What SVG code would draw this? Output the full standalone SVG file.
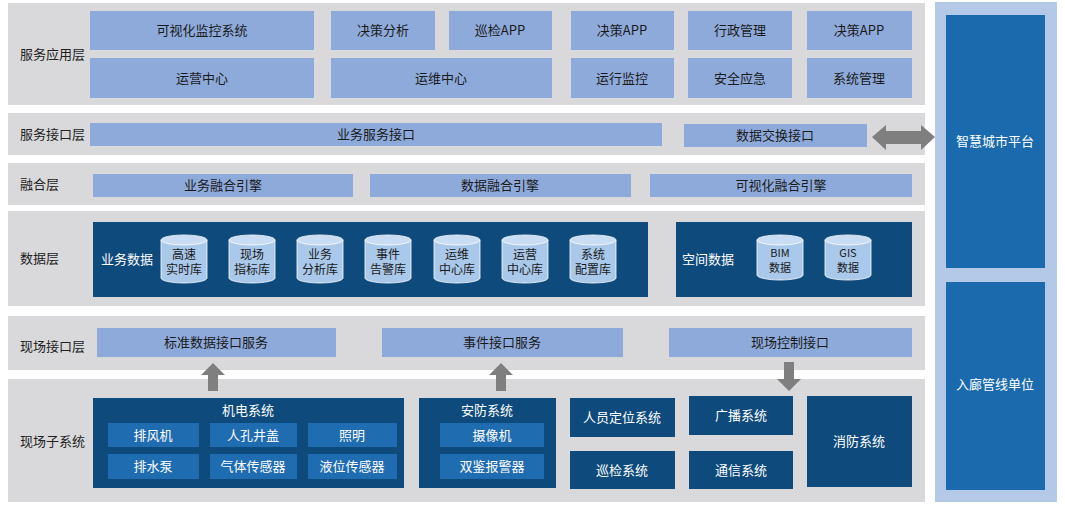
<svg xmlns="http://www.w3.org/2000/svg" width="1065" height="510" viewBox="0 0 1065 510">
<style>
text{font-family:"Noto Sans CJK SC","Liberation Sans",sans-serif;font-size:13px;}
.layer{fill:#d9d9db}
.lt{fill:#8eaadb}
.nv{fill:#0e4a7c}
.cell{fill:#1f6cb0}
.lab{fill:#222;font-size:13px}
.dk{fill:#1a1a1a;text-anchor:middle}
.wt{fill:#fff;text-anchor:middle}
.cyl{fill:#a9c8ea;stroke:#fff;stroke-width:0.8}
.cyt{fill:#c8ddf3;stroke:#fff;stroke-width:0.8}
.cy{fill:#1a1a1a;text-anchor:middle;font-size:12px}
.cs{fill:#1a1a1a;text-anchor:middle;font-size:11px}
.ar{fill:#7f7f7f}
</style>
<rect width="1065" height="510" fill="#fff"/>
<g id="layers">
<rect class="layer" x="8" y="3" width="917" height="102"/>
<rect class="layer" x="8" y="113" width="917" height="42"/>
<rect class="layer" x="8" y="163" width="917" height="42"/>
<rect class="layer" x="8" y="211" width="917" height="95"/>
<rect class="layer" x="8" y="316" width="917" height="54"/>
<rect class="layer" x="8" y="379" width="917" height="123"/>
<text class="lab" x="20" y="59">服务应用层</text>
<text class="lab" x="20" y="139">服务接口层</text>
<text class="lab" x="20" y="189">融合层</text>
<text class="lab" x="20" y="263">数据层</text>
<text class="lab" x="20" y="351">现场接口层</text>
<text class="lab" x="20" y="446">现场子系统</text>
</g>
<g id="right">
<rect x="935" y="2" width="122" height="500" fill="#b4c9e8"/>
<g id="n-city"><rect x="946" y="15" width="99" height="253" fill="#1a6aad"/><text class="wt" x="995" y="146">智慧城市平台</text></g>
<g id="n-pipe"><rect x="946" y="282" width="99" height="208" fill="#1a6aad"/><text class="wt" x="995" y="389">入廊管线单位</text></g>
</g>
<g id="app">
<g id="n1"><rect class="lt" x="90" y="11" width="224" height="39"/><text class="dk" x="202" y="35">可视化监控系统</text></g>
<g id="n2"><rect class="lt" x="90" y="58" width="224" height="40"/><text class="dk" x="202" y="83">运营中心</text></g>
<g id="n3"><rect class="lt" x="331" y="11" width="104" height="39"/><text class="dk" x="383" y="35">决策分析</text></g>
<g id="n4"><rect class="lt" x="449" y="11" width="103" height="39"/><text class="dk" x="500" y="35">巡检APP</text></g>
<g id="n5"><rect class="lt" x="331" y="58" width="221" height="40"/><text class="dk" x="441" y="83">运维中心</text></g>
<g id="n6"><rect class="lt" x="571" y="11" width="103" height="39"/><text class="dk" x="622" y="35">决策APP</text></g>
<g id="n7"><rect class="lt" x="688" y="11" width="104" height="39"/><text class="dk" x="740" y="35">行政管理</text></g>
<g id="n8"><rect class="lt" x="807" y="11" width="105" height="39"/><text class="dk" x="859" y="35">决策APP</text></g>
<g id="n9"><rect class="lt" x="571" y="58" width="103" height="40"/><text class="dk" x="622" y="83">运行监控</text></g>
<g id="n10"><rect class="lt" x="688" y="58" width="104" height="40"/><text class="dk" x="740" y="83">安全应急</text></g>
<g id="n11"><rect class="lt" x="807" y="58" width="105" height="40"/><text class="dk" x="859" y="83">系统管理</text></g>
</g>
<g id="iface">
<g id="n12"><rect class="lt" x="90" y="123" width="572" height="23"/><text class="dk" x="376" y="139">业务服务接口</text></g>
<g id="n13"><rect class="lt" x="684" y="124" width="183" height="23"/><text class="dk" x="775" y="140">数据交换接口</text></g>
</g>
<g id="fusion">
<g id="n14"><rect class="lt" x="93" y="174" width="260" height="23"/><text class="dk" x="223" y="190">业务融合引擎</text></g>
<g id="n15"><rect class="lt" x="370" y="174" width="261" height="23"/><text class="dk" x="500" y="190">数据融合引擎</text></g>
<g id="n16"><rect class="lt" x="650" y="174" width="262" height="23"/><text class="dk" x="781" y="190">可视化融合引擎</text></g>
</g>
<g id="data">
<rect class="nv" x="93" y="222" width="555" height="75"/>
<text class="wt" x="127" y="264">业务数据</text>
<rect class="nv" x="676" y="222" width="236" height="75"/>
<text class="wt" x="708" y="264">空间数据</text>
<g id="cyls">
<g id="c1"><path class="cyl" d="M161,240 v38 a23,5 0 0 0 46,0 v-38"/><ellipse class="cyt" cx="184" cy="240" rx="23" ry="5"/><text class="cy" x="184" y="259">高速</text><text class="cy" x="184" y="274">实时库</text></g>
<g id="c2"><path class="cyl" d="M229,240 v38 a23,5 0 0 0 46,0 v-38"/><ellipse class="cyt" cx="252" cy="240" rx="23" ry="5"/><text class="cy" x="252" y="259">现场</text><text class="cy" x="252" y="274">指标库</text></g>
<g id="c3"><path class="cyl" d="M297,240 v38 a23,5 0 0 0 46,0 v-38"/><ellipse class="cyt" cx="320" cy="240" rx="23" ry="5"/><text class="cy" x="320" y="259">业务</text><text class="cy" x="320" y="274">分析库</text></g>
<g id="c4"><path class="cyl" d="M365,240 v38 a23,5 0 0 0 46,0 v-38"/><ellipse class="cyt" cx="388" cy="240" rx="23" ry="5"/><text class="cy" x="388" y="259">事件</text><text class="cy" x="388" y="274">告警库</text></g>
<g id="c5"><path class="cyl" d="M434,240 v38 a23,5 0 0 0 46,0 v-38"/><ellipse class="cyt" cx="457" cy="240" rx="23" ry="5"/><text class="cy" x="457" y="259">运维</text><text class="cy" x="457" y="274">中心库</text></g>
<g id="c6"><path class="cyl" d="M502,240 v38 a23,5 0 0 0 46,0 v-38"/><ellipse class="cyt" cx="525" cy="240" rx="23" ry="5"/><text class="cy" x="525" y="259">运营</text><text class="cy" x="525" y="274">中心库</text></g>
<g id="c7"><path class="cyl" d="M570,240 v38 a23,5 0 0 0 46,0 v-38"/><ellipse class="cyt" cx="593" cy="240" rx="23" ry="5"/><text class="cy" x="593" y="259">系统</text><text class="cy" x="593" y="274">配置库</text></g>
<g id="c8"><path class="cyl" d="M757,240 v35 a23,5 0 0 0 46,0 v-35"/><ellipse class="cyt" cx="780" cy="240" rx="23" ry="5"/><text class="cs" x="780" y="257">BIM</text><text class="cs" x="780" y="272">数据</text></g>
<g id="c9"><path class="cyl" d="M825,240 v35 a23,5 0 0 0 46,0 v-35"/><ellipse class="cyt" cx="848" cy="240" rx="23" ry="5"/><text class="cs" x="848" y="257">GIS</text><text class="cs" x="848" y="272">数据</text></g>
</g>
</g>
<g id="field">
<g id="n17"><rect class="lt" x="97" y="328" width="239" height="29"/><text class="dk" x="216" y="347">标准数据接口服务</text></g>
<g id="n18"><rect class="lt" x="382" y="328" width="241" height="29"/><text class="dk" x="502" y="347">事件接口服务</text></g>
<g id="n19"><rect class="lt" x="669" y="328" width="243" height="29"/><text class="dk" x="790" y="347">现场控制接口</text></g>
</g>
<g id="sub">
<g id="n20"><rect class="nv" x="93" y="398" width="311" height="90"/><text class="wt" x="248" y="415">机电系统</text>
<rect class="cell" x="108" y="423" width="91" height="24"/><text class="wt" x="153" y="440">排风机</text>
<rect class="cell" x="210" y="423" width="87" height="24"/><text class="wt" x="253" y="440">人孔井盖</text>
<rect class="cell" x="308" y="423" width="89" height="24"/><text class="wt" x="352" y="440">照明</text>
<rect class="cell" x="108" y="454" width="91" height="25"/><text class="wt" x="153" y="471">排水泵</text>
<rect class="cell" x="210" y="454" width="87" height="25"/><text class="wt" x="253" y="471">气体传感器</text>
<rect class="cell" x="308" y="454" width="89" height="25"/><text class="wt" x="352" y="471">液位传感器</text></g>
<g id="n21"><rect class="nv" x="419" y="398" width="137" height="90"/><text class="wt" x="487" y="415">安防系统</text>
<rect class="cell" x="440" y="423" width="104" height="24"/><text class="wt" x="492" y="440">摄像机</text>
<rect class="cell" x="440" y="454" width="104" height="25"/><text class="wt" x="492" y="471">双鉴报警器</text></g>
<g id="n22"><rect class="nv" x="570" y="398" width="105" height="39"/><text class="wt" x="622" y="422">人员定位系统</text></g>
<g id="n23"><rect class="nv" x="570" y="451" width="105" height="38"/><text class="wt" x="622" y="475">巡检系统</text></g>
<g id="n24"><rect class="nv" x="689" y="396" width="104" height="39"/><text class="wt" x="741" y="420">广播系统</text></g>
<g id="n25"><rect class="nv" x="689" y="451" width="104" height="38"/><text class="wt" x="741" y="475">通信系统</text></g>
<g id="n26"><rect class="nv" x="807" y="396" width="105" height="91"/><text class="wt" x="859" y="446">消防系统</text></g>
</g>
<g id="connectors">
<path class="ar" d="M872,137 L886,125 V131 H921 V125 L935,137 L921,150 V144 H886 V150 Z"/>
<path class="ar" d="M213,363 L225,375 H218 V391 H208 V375 H201 Z"/>
<path class="ar" d="M501,363 L513,375 H506 V391 H496 V375 H489 Z"/>
<path class="ar" d="M789,391 L801,379 H794 V362 H784 V379 H777 Z"/>
</g>
</svg>
